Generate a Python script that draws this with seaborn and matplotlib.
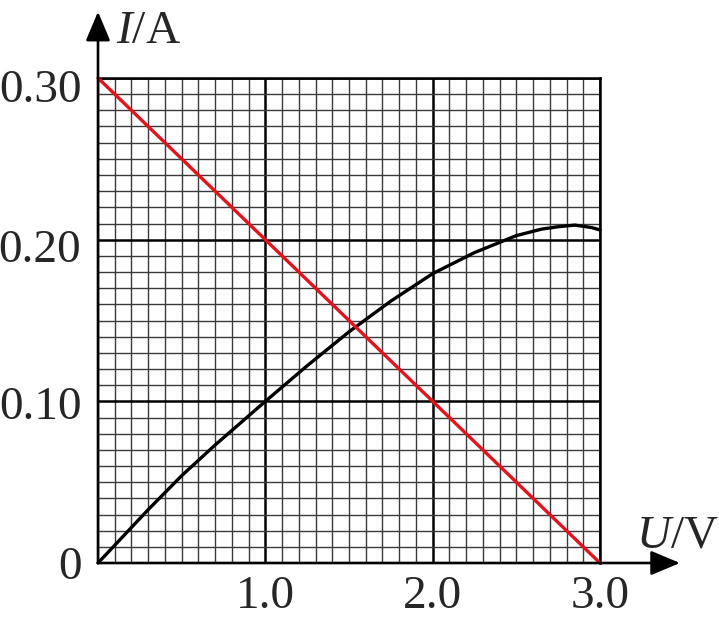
import numpy as np
import pandas as pd
import matplotlib
matplotlib.use("Agg")
import matplotlib.pyplot as plt
import matplotlib.transforms as mtransforms
import seaborn as sns

# ---- data ----
U_curve = [0.0, 0.3, 0.5, 0.7, 1.0, 1.25, 1.5, 1.75, 2.0, 2.25, 2.5, 2.65, 2.75, 2.85, 2.95, 3.0]
I_curve = [0.0, 0.033, 0.054, 0.073, 0.100, 0.122, 0.143, 0.162, 0.179, 0.192, 0.2025, 0.2065, 0.208, 0.209, 0.2075, 0.206]
U_line = [0.0, 3.0]
I_line = [0.30, 0.0]

x_ticks = [1.0, 2.0, 3.0]
x_tick_labels = ["1.0", "2.0", "3.0"]
y_ticks = [0.0, 0.10, 0.20, 0.30]
y_tick_labels = ["0", "0.10", "0.20", "0.30"]

sns.set_style("white")
plt.rcParams["font.family"] = ["Liberation Serif", "DejaVu Serif"]
plt.rcParams["mathtext.fontset"] = "custom"
plt.rcParams["mathtext.rm"] = "Liberation Serif"
plt.rcParams["mathtext.it"] = "Liberation Serif:italic"

W, H = 719, 624
fig = plt.figure(figsize=(W / 100, H / 100), dpi=100)
ax = fig.add_axes([98 / W, (H - 563) / H, 502 / W, 485 / H])

df_curve = pd.DataFrame({"U": U_curve, "I": I_curve})
df_line = pd.DataFrame({"U": U_line, "I": I_line})

sns.lineplot(data=df_curve, x="U", y="I", color="black", lw=2.4, sort=False, ax=ax, zorder=4)
sns.lineplot(data=df_line, x="U", y="I", color="#e3121b", lw=2.4, sort=False, ax=ax, zorder=5)
for l in ax.lines:
    l.set_clip_on(False)

ax.set_xlim(0, 3.0)
ax.set_ylim(0, 0.30)

ax.set_xticks(x_ticks)
ax.set_xticklabels(x_tick_labels)
ax.set_yticks(y_ticks)
ax.set_yticklabels(y_tick_labels)
ax.set_xticks(np.arange(0, 3.0001, 0.1), minor=True)
ax.set_yticks(np.arange(0, 0.30001, 0.01), minor=True)

ax.grid(which="minor", color="#3a3a3a", lw=1.0)
ax.grid(which="major", color="black", lw=1.8)
ax.set_axisbelow(True)

ax.tick_params(which="both", length=0)
ax.tick_params(axis="x", pad=9, labelsize=34)
ax.tick_params(axis="y", pad=12, labelsize=34)
ax.set_xlabel("")
ax.set_ylabel("")

# small vertical offsets of the y tick labels as in the reference (pixels)
for lab, dy in zip(ax.get_yticklabels(), [0, 1.5, 6, 8]):
    lab.set_transform(lab.get_transform() +
                      mtransforms.ScaledTranslation(0, -dy / 100, fig.dpi_scale_trans))

for s in ["left", "bottom"]:
    ax.spines[s].set_visible(False)
for s in ["top", "right"]:
    ax.spines[s].set_visible(True)
    ax.spines[s].set_color("black")
    ax.spines[s].set_linewidth(1.8)

# axis arrows
arrow_kw = dict(arrowstyle="-|>,head_length=1.0,head_width=0.42", color="black",
                lw=1.9, mutation_scale=18, shrinkA=0, shrinkB=0)
ax.annotate("", xy=(0, 0.341), xytext=(0, 0), xycoords="data",
            arrowprops=arrow_kw, annotation_clip=False, zorder=6)
ax.annotate("", xy=(3.478, 0), xytext=(0, 0), xycoords="data",
            arrowprops=arrow_kw, annotation_clip=False, zorder=6)

fig.text(116 / W, (H - 43) / H, r"$I$/A", fontsize=34, va="baseline", ha="left")
fig.text(636 / W, (H - 547) / H, r"$U$/V", fontsize=34, va="baseline", ha="left")

fig.savefig("out.png", dpi=100)
